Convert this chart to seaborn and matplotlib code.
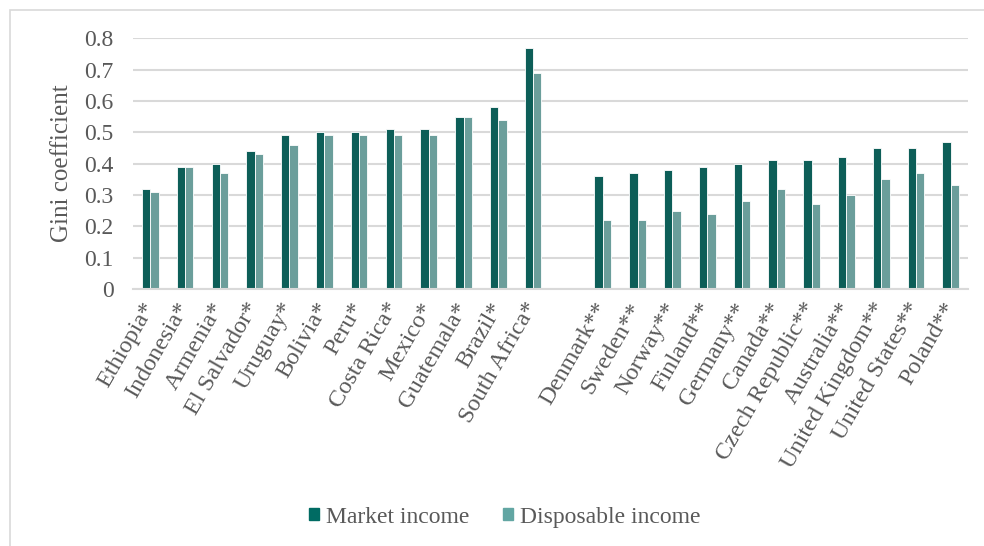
import pandas as pd
import matplotlib
matplotlib.use('Agg')
import matplotlib.pyplot as plt
import seaborn as sns
from matplotlib.patches import Rectangle

# Gini coefficients, market vs disposable income
paises = ['Ethiopia*', 'Indonesia*', 'Armenia*', 'El Salvador*', 'Uruguay*', 'Bolivia*',
          'Peru*', 'Costa Rica*', 'Mexico*', 'Guatemala*', 'Brazil*', 'South Africa*',
          ' ',
          'Denmark**', 'Sweden**', 'Norway**', 'Finland**', 'Germany**', 'Canada**',
          'Czech Republic**', 'Australia**', 'United Kingdom**', 'United States**', 'Poland**']
mercado = [0.32, 0.39, 0.40, 0.44, 0.49, 0.50, 0.50, 0.51, 0.51, 0.55, 0.58, 0.77,
           None,
           0.36, 0.37, 0.38, 0.39, 0.40, 0.41, 0.41, 0.42, 0.45, 0.45, 0.47]
disponivel = [0.31, 0.39, 0.37, 0.43, 0.46, 0.49, 0.49, 0.49, 0.49, 0.55, 0.54, 0.69,
              None,
              0.22, 0.22, 0.25, 0.24, 0.28, 0.32, 0.27, 0.30, 0.35, 0.37, 0.33]
series = ['Market income', 'Disposable income']
cores = ['#006B63', '#62A6A3']

dados = pd.DataFrame({'País': paises * 2,
                      'Gini': mercado + disponivel,
                      'Renda': [series[0]] * len(paises) + [series[1]] * len(paises)})

sns.set_style('white')
plt.rcParams['font.family'] = ['Liberation Serif', 'DejaVu Serif']
cinza = '#595959'

fig = plt.figure(figsize=(9.84, 5.46), dpi=100)
ax = fig.add_axes([0.135, 0.471, 0.849, 0.459])

sns.barplot(data=dados, x='País', y='Gini', hue='Renda', order=paises,
            palette=cores, width=0.48, edgecolor='white', linewidth=0.6,
            ax=ax, legend=True)

ax.set_ylim(0, 0.8)
ax.set_yticks([0, 0.1, 0.2, 0.3, 0.4, 0.5, 0.6, 0.7, 0.8])
ax.set_yticklabels(['0', '0.1', '0.2', '0.3', '0.4', '0.5', '0.6', '0.7', '0.8'])
ax.yaxis.grid(True, color='#D9D9D9', linewidth=1.5)
ax.set_axisbelow(True)
for s in ['top', 'right', 'left']:
    ax.spines[s].set_visible(False)
ax.spines['bottom'].set_color('#D9D9D9')
ax.spines['bottom'].set_linewidth(1.5)
ax.tick_params(axis='both', length=0, labelsize=17, colors=cinza)
ax.tick_params(axis='y', pad=14)
ax.tick_params(axis='x', pad=11, labelsize=17.5)
ax.set_xlim(-0.5, len(paises) - 0.5)
plt.setp(ax.get_xticklabels(), rotation=60, ha='right', va='center',
         rotation_mode='anchor')
ax.set_xlabel('')
ax.set_ylabel('Gini coefficient', fontsize=18, color=cinza, labelpad=8)

ax.get_legend().remove()
handles = [Rectangle((0, 0), 1, 1, color=c) for c in cores]
fig.legend(handles, series, loc='center', bbox_to_anchor=(0.513, 0.053), ncol=2,
           frameon=False, fontsize=17, handlelength=0.42, handleheight=0.42,
           handletextpad=0.3, columnspacing=1.4, labelcolor=cinza)

# moldura do gráfico
fig.patches.append(Rectangle((10 / 984, -0.01), 1.0, 1 - 10 / 546 + 0.01,
                             transform=fig.transFigure, fill=False,
                             edgecolor='#D9D9D9', linewidth=1.2))

fig.savefig('out.png', dpi=100)
